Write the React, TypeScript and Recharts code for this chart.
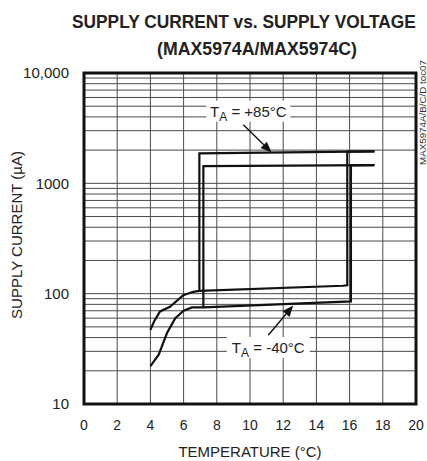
import { LineChart, Line, XAxis, YAxis, CartesianGrid } from "recharts";

const W = 427;
const H = 461;
// plot box
const L = 84;
const T = 73;
const R = 416;
const B = 404;

const xTicks = [0, 2, 4, 6, 8, 10, 12, 14, 16, 18, 20];
const yTicks = [
  10, 20, 30, 40, 50, 60, 70, 80, 90, 100, 200, 300, 400, 500, 600, 700, 800,
  900, 1000, 2000, 3000, 4000, 5000, 6000, 7000, 8000, 9000, 10000,
];
const yLabels: Record<number, string> = {
  10: "10",
  100: "100",
  1000: "1000",
  10000: "10,000",
};

// TA = +85°C, rising supply then falling supply
const hotUpV = [4.0, 4.22, 4.58, 5.18, 5.98, 6.58, 6.95, 15.6, 15.86, 15.86, 17.5];
const hotUpI = [47, 56, 69, 76, 97, 104, 106, 118, 119, 1935, 1950];
const hotDownV = [17.5, 6.95, 6.95];
const hotDownI = [1950, 1870, 106];

// TA = -40°C
const coldUpV = [4.0, 4.5, 5.0, 5.5, 6.0, 6.5, 7.19, 16.08, 16.08, 17.5];
const coldUpI = [22, 28, 44, 60, 70, 75, 75, 85, 1455, 1460];
const coldDownV = [17.5, 7.19, 7.19];
const coldDownI = [1460, 1430, 75];

const toRows = (v: number[], i: number[]) => v.map((x, k) => ({ v: x, i: i[k] }));

const series = [
  toRows(hotUpV, hotUpI),
  toRows(hotDownV, hotDownI),
  toRows(coldUpV, coldUpI),
  toRows(coldDownV, coldDownI),
];

// data -> pixel, for the annotations
const px = (v: number) => L + (v / 20) * (R - L);
const py = (i: number) => T + ((4 - Math.log10(i)) / 3) * (B - T);

const font = "'Liberation Sans', Arial, sans-serif";

const Note = ({
  cx,
  cy,
  w,
  temp,
  arrow,
}: {
  cx: number;
  cy: number;
  w: number;
  temp: string;
  arrow: [number, number, number, number];
}) => {
  const [x1, y1, x2, y2] = arrow;
  const ang = Math.atan2(y2 - y1, x2 - x1);
  const len = 11;
  const half = 4.5;
  const bx = x2 - len * Math.cos(ang);
  const by = y2 - len * Math.sin(ang);
  const pts = [
    [x2, y2],
    [bx + half * Math.sin(ang), by - half * Math.cos(ang)],
    [bx - half * Math.sin(ang), by + half * Math.cos(ang)],
  ]
    .map((p) => p.join(","))
    .join(" ");
  return (
    <g>
      <rect x={cx - w / 2} y={cy - 11} width={w} height={21} fill="#fff" />
      <text x={cx} y={cy + 5} textAnchor="middle" fontSize={15} fill="#222" fontFamily={font}>
        T
        <tspan fontSize={12} dy={4}>A</tspan>
        <tspan dy={-4}>{` = ${temp}°C`}</tspan>
      </text>
      <line x1={x1} y1={y1} x2={bx} y2={by} stroke="#111" strokeWidth={1.4} />
      <polygon points={pts} fill="#111" />
    </g>
  );
};

export default function App() {
  return (
    <div style={{ position: "absolute", left: 0, top: 0, width: W, height: H, background: "#fff" }}>
      <LineChart
        width={W}
        height={H}
        margin={{ top: T, right: W - R, bottom: H - B - 30, left: L - 60 }}
      >
        <CartesianGrid stroke="#4a4a4a" strokeWidth={1} />
        <XAxis
          dataKey="v"
          type="number"
          domain={[0, 20]}
          ticks={xTicks}
          interval={0}
          height={30}
          axisLine={false}
          tickLine={false}
          tickSize={0}
          tickMargin={16}
          tick={{ fontSize: 14, fill: "#222", fontFamily: font }}
          allowDuplicatedCategory={false}
        />
        <YAxis
          dataKey="i"
          type="number"
          scale="log"
          domain={[10, 10000]}
          ticks={yTicks}
          interval={0}
          width={60}
          allowDataOverflow
          axisLine={false}
          tickLine={false}
          tickSize={0}
          tickMargin={15}
          tickFormatter={(t: number) => yLabels[t] ?? ""}
          tick={{ fontSize: 15, fill: "#222", fontFamily: font }}
        />
        {series.map((d, k) => (
          <Line
            key={k}
            data={d}
            dataKey="i"
            type="linear"
            stroke="#111"
            strokeWidth={2.2}
            dot={false}
            activeDot={false}
            isAnimationActive={false}
          />
        ))}
      </LineChart>
      <svg
        width={W}
        height={H}
        style={{ position: "absolute", left: 0, top: 0, pointerEvents: "none" }}
      >
        <rect x={L} y={T} width={R - L} height={B - T} fill="none" stroke="#111" strokeWidth={3} />
        <text
          transform="translate(72,28) scale(0.962,1)"
          fontSize={18}
          fontWeight="bold"
          fill="#222"
          fontFamily={font}
        >
          SUPPLY CURRENT vs. SUPPLY VOLTAGE
        </text>
        <text
          transform="translate(157,55) scale(0.985,1)"
          fontSize={18}
          fontWeight="bold"
          fill="#222"
          fontFamily={font}
        >
          (MAX5974A/MAX5974C)
        </text>
        <text x={250} y={456.5} textAnchor="middle" fontSize={15} fill="#222" fontFamily={font}>
          TEMPERATURE (°C)
        </text>
        <text
          transform="translate(21.5,235) rotate(-90)"
          textAnchor="middle"
          fontSize={15}
          fill="#222"
          fontFamily={font}
        >
          SUPPLY CURRENT (µA)
        </text>
        <text
          transform="translate(426,165) rotate(-90)"
          fontSize={9}
          fill="#333"
          fontFamily={font}
          textLength={105}
          lengthAdjust="spacingAndGlyphs"
        >
          MAX5974A/B/C/D toc07
        </text>
        <Note
          cx={px(9.9)}
          cy={py(4460)}
          w={84}
          temp="+85"
          arrow={[px(9.6), py(3400), px(11.3), py(1900)]}
        />
        <Note
          cx={px(11.1)}
          cy={py(32.2)}
          w={83}
          temp="-40"
          arrow={[px(11.1), py(42), px(12.6), py(78)]}
        />
      </svg>
    </div>
  );
}
